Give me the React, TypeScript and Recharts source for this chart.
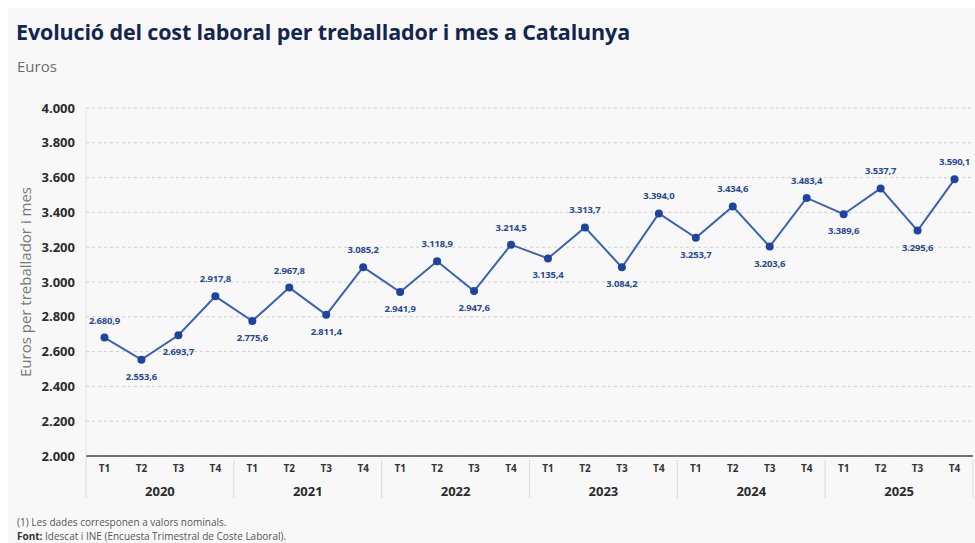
import React from 'react';
import {
    LineChart,
    Line,
    XAxis,
    YAxis,
    CartesianGrid,
    LabelList,
    Label,
} from 'recharts';

const years = ['2020', '2021', '2022', '2023', '2024', '2025'];
const quarters = ['T1', 'T2', 'T3', 'T4'];
const costValues = [
    2680.9, 2553.6, 2693.7, 2917.8,
    2775.6, 2967.8, 2811.4, 3085.2,
    2941.9, 3118.9, 2947.6, 3214.5,
    3135.4, 3313.7, 3084.2, 3394.0,
    3253.7, 3434.6, 3203.6, 3483.4,
    3389.6, 3537.7, 3295.6, 3590.1,
];
const yTicks = [2000, 2200, 2400, 2600, 2800, 3000, 3200, 3400, 3600, 3800, 4000];

const data = costValues.map((v, i) => ({
    key: `${years[Math.floor(i / 4)]}-${quarters[i % 4]}`,
    q: quarters[i % 4],
    year: years[Math.floor(i / 4)],
    value: v,
}));

// layout (panel pinned at 8,8 so it never makes the page scroll)
const CHART_W = 967;
const CHART_H = 500;
const AXIS_W = 78;
const RIGHT = 2;
const BAND = (CHART_W - AXIS_W - RIGHT) / data.length;

const FONT = '"Open Sans", "Noto Sans", sans-serif';
const NAVY = '#14254f';
const LINE = '#3a62b3';
const DOT = '#1d45a0';
const LABEL = '#2a4a8e';

// 2680.9 -> "2.680,9" ; 4000 -> "4.000"
function thousands(n: number) {
    return String(n).replace(/\B(?=(\d{3})+(?!\d))/g, '.');
}
function fmtValue(v: number) {
    const [int, dec] = v.toFixed(1).split('.');
    return `${thousands(Number(int))},${dec}`;
}

// local maxima get their label above the dot, the rest below
function isPeak(i: number) {
    const v = costValues[i];
    const prev = i > 0 ? costValues[i - 1] : -Infinity;
    const next = i < costValues.length - 1 ? costValues[i + 1] : -Infinity;
    return v > prev && v > next;
}

function QuarterTick(props: any) {
    const { x, y, payload, index } = props;
    const row = data[index];
    return (
        <g>
            <text x={x} y={y + 16} textAnchor="middle" fontSize={10} fontWeight={700} fill="#333" fontFamily={FONT}>
                {payload.value}
            </text>
            {index % 4 === 0 && (
                <line x1={x - BAND / 2} x2={x - BAND / 2} y1={y + 4} y2={y + 42} stroke="#dadada" strokeWidth={1} />
            )}
            {index % 4 === 1 && (
                <text x={x + BAND / 2} y={y + 40} textAnchor="middle" fontSize={13} fontWeight={700} fill="#2b2b2b" fontFamily={FONT}>
                    {row.year}
                </text>
            )}
            {index === data.length - 1 && (
                <line x1={x + BAND / 2} x2={x + BAND / 2} y1={y + 4} y2={y + 42} stroke="#dadada" strokeWidth={1} />
            )}
        </g>
    );
}

function ValueLabel(props: any) {
    const { x, y, value, index } = props;
    const up = isPeak(index);
    // keep the last label inside the frame
    const cx = Math.min(x, CHART_W - 19);
    return (
        <text
            x={cx}
            y={up ? y - 14 : y + 20}
            textAnchor="middle"
            fontSize={9.5}
            fontWeight={700}
            letterSpacing={-0.2}
            fill={LABEL}
            fontFamily={FONT}
        >
            {fmtValue(value)}
        </text>
    );
}

export default function App() {
    return (
        <div style={{ position: 'fixed', left: 8, top: 8, width: CHART_W, height: 535, overflow: 'hidden', background: '#f8f8f9', fontFamily: FONT }}>
            <div style={{ position: 'absolute', left: 8, top: 10, fontSize: 21.5, lineHeight: '28px', fontWeight: 700, color: NAVY, letterSpacing: -0.15 }}>
                Evolució del cost laboral per treballador i mes a Catalunya
            </div>
            <div style={{ position: 'absolute', left: 9, top: 49, fontSize: 15, lineHeight: '18px', color: '#6b6b6b' }}>
                Euros
            </div>

            <div style={{ position: 'absolute', left: 0, top: 0 }}>
                <LineChart
                    width={CHART_W}
                    height={CHART_H}
                    data={data}
                    margin={{ top: 100, right: RIGHT, bottom: 2, left: 0 }}
                >
                    <CartesianGrid vertical={false} stroke="#cfcfcf" strokeDasharray="3 3" />
                    <XAxis
                        dataKey="q"
                        interval={0}
                        allowDuplicatedCategory
                        padding={{ left: BAND / 2, right: BAND / 2 }}
                        height={50}
                        tickSize={0}
                        tickMargin={0}
                        tickLine={false}
                        axisLine={{ stroke: '#4a4a4a', strokeWidth: 1.5 }}
                        tick={<QuarterTick />}
                    />
                    <YAxis
                        domain={[2000, 4000]}
                        ticks={yTicks}
                        width={AXIS_W}
                        tickSize={0}
                        tickMargin={11}
                        tickLine={false}
                        axisLine={{ stroke: '#e2e2e2' }}
                        tickFormatter={(v: number) => thousands(v)}
                        tick={{ fontSize: 13, fontWeight: 700, fill: '#2b2b2b', fontFamily: FONT }}
                    >
                        <Label
                            content={({ viewBox }: any) => (
                                <text
                                    transform={`translate(${viewBox.x + 17}, ${viewBox.y + viewBox.height / 2}) rotate(-90)`}
                                    textAnchor="middle"
                                    dominantBaseline="central"
                                    fontSize={15}
                                    fill="#777"
                                    fontFamily={FONT}
                                >
                                    Euros per treballador i mes
                                </text>
                            )}
                        />
                    </YAxis>
                    <Line
                        type="linear"
                        dataKey="value"
                        stroke={LINE}
                        strokeWidth={2}
                        dot={{ r: 4, fill: DOT, stroke: DOT, strokeWidth: 0 }}
                        activeDot={false}
                        isAnimationActive={false}
                    >
                        <LabelList dataKey="value" content={<ValueLabel />} />
                    </Line>
                </LineChart>
            </div>

            <div style={{ position: 'absolute', left: 9, top: 507, fontSize: 10, lineHeight: '14px', color: '#555' }}>
                (1) Les dades corresponen a valors nominals.
            </div>
            <div style={{ position: 'absolute', left: 9, top: 521, fontSize: 10, lineHeight: '14px', color: '#555' }}>
                <b style={{ color: '#333' }}>Font:</b> Idescat i INE (Encuesta Trimestral de Coste Laboral).
            </div>
        </div>
    );
}
